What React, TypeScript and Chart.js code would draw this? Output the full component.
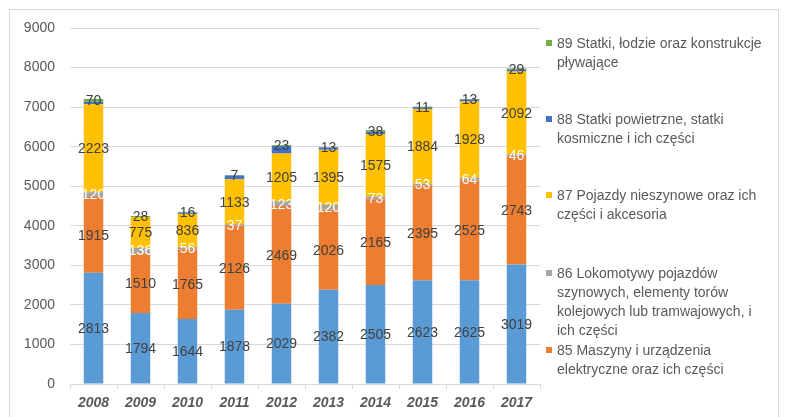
import React, { useEffect, useRef } from "react";
import { Chart, registerables } from "chart.js";

Chart.register(...registerables);

const years = ["2008", "2009", "2010", "2011", "2012", "2013", "2014", "2015", "2016", "2017"];
const s84 = [2813, 1794, 1644, 1878, 2029, 2382, 2505, 2623, 2625, 3019];
const s85 = [1915, 1510, 1765, 2126, 2469, 2026, 2165, 2395, 2525, 2743];
const s86 = [120, 136, 56, 37, 123, 120, 73, 53, 64, 46];
const s87 = [2223, 775, 836, 1133, 1205, 1395, 1575, 1884, 1928, 2092];
const s88 = [64, 5, 35, 100, 190, 55, 63, 45, 50, 50];
const s89 = [70, 28, 16, 7, 23, 13, 38, 11, 13, 29];

const names = [
  "84 Reaktory jądrowe, kotły, maszyny i urządzenia mechaniczne",
  "85 Maszyny i urządzenia elektryczne oraz ich części",
  "86 Lokomotywy pojazdów szynowych, elementy torów kolejowych lub tramwajowych, i ich części",
  "87 Pojazdy nieszynowe oraz ich części i akcesoria",
  "88 Statki powietrzne, statki kosmiczne i ich części",
  "89 Statki, łodzie oraz konstrukcje pływające",
];
const colors = ["#5B9BD5", "#ED7D31", "#A5A5A5", "#FFC000", "#4472C4", "#70AD47"];
const labelColors = ["#404040", "#404040", "#FFFFFF", "#404040", null, "#404040"];

const legendItems = [
  { color: "#70AD47", lines: ["89 Statki, łodzie oraz konstrukcje", "pływające"], top: 43 },
  { color: "#4472C4", lines: ["88 Statki powietrzne, statki", "kosmiczne i ich części"], top: 119 },
  { color: "#FFC000", lines: ["87 Pojazdy nieszynowe oraz ich", "części i akcesoria"], top: 195 },
  {
    color: "#A5A5A5",
    lines: ["86 Lokomotywy pojazdów", "szynowych, elementy torów", "kolejowych lub tramwajowych, i", "ich części"],
    top: 273,
  },
  { color: "#ED7D31", lines: ["85 Maszyny i urządzenia", "elektryczne oraz ich części"], top: 350 },
];

const FONT = "'Liberation Sans', Arial, sans-serif";

const segLabels = {
  id: "segLabels",
  afterDatasetsDraw(chart: any) {
    const ctx = chart.ctx;
    ctx.save();
    ctx.font = `14px ${FONT}`;
    ctx.textAlign = "center";
    ctx.textBaseline = "middle";
    chart.data.datasets.forEach((ds: any, i: number) => {
      const c = labelColors[i];
      if (!c) return;
      const meta = chart.getDatasetMeta(i);
      ctx.fillStyle = c;
      meta.data.forEach((el: any, j: number) => {
        const p = el.getProps(["x", "y", "base"], true);
        ctx.fillText(String(ds.data[j]), p.x, (p.y + p.base) / 2 + 1);
      });
    });
    ctx.restore();
  },
};

export default function App() {
  const ref = useRef<HTMLCanvasElement>(null);
  useEffect(() => {
    const series = [s84, s85, s86, s87, s88, s89];
    const chart = new Chart(ref.current!, {
      type: "bar",
      data: {
        labels: years,
        datasets: series.map((d, i) => ({
          label: names[i],
          data: d,
          backgroundColor: colors[i],
          borderWidth: 0,
          categoryPercentage: 1,
          barPercentage: 0.415,
        })),
      },
      options: {
        responsive: false,
        animation: false,
        devicePixelRatio: 1,
        layout: { padding: { left: 10, right: 248, top: 28, bottom: 0 } },
        plugins: { legend: { display: false }, tooltip: { enabled: false } },
        scales: {
          x: {
            stacked: true,
            afterFit: (s: any) => {
              s.height = 33;
            },
            grid: {
              offset: true,
              drawOnChartArea: false,
              drawTicks: true,
              tickLength: 5,
              color: "#D9D9D9",
            },
            border: { display: true, color: "#D9D9D9" },
            ticks: {
              padding: 6,
              color: "#595959",
              font: { family: FONT, size: 14, weight: "bold", style: "italic" },
            },
          },
          y: {
            stacked: true,
            min: 0,
            max: 9000,
            afterFit: (s: any) => {
              s.width = 60;
            },
            grid: { color: "#D9D9D9", drawTicks: false },
            border: { display: false },
            ticks: {
              stepSize: 1000,
              padding: 15,
              color: "#595959",
              font: { family: FONT, size: 14 },
              callback: (v: any) => String(v),
            },
          },
        },
      },
      plugins: [segLabels],
    });
    return () => chart.destroy();
  }, []);

  return (
    <div style={{ position: "fixed", left: 0, top: 0, width: 788, height: 417, background: "#fff", overflow: "hidden" }}>
      <div
        style={{
          position: "absolute",
          left: 9,
          top: 9,
          width: 770,
          height: 420,
          border: "1px solid #D9D9D9",
          boxSizing: "border-box",
        }}
      />
      <canvas ref={ref} width={788} height={417} style={{ position: "absolute", left: 0, top: 0 }} />
      {legendItems.map((it, k) => (
        <div key={k} style={{ position: "absolute", left: 546, top: it.top - 9.5 }}>
          <div
            style={{ position: "absolute", left: 0, top: 6, width: 6, height: 6, background: it.color }}
          />
          <div
            style={{
              position: "absolute",
              left: 11,
              top: 0,
              whiteSpace: "nowrap",
              font: `14px ${FONT}`,
              lineHeight: "19px",
              color: "#595959",
            }}
          >
            {it.lines.map((l, m) => (
              <div key={m}>{l}</div>
            ))}
          </div>
        </div>
      ))}
    </div>
  );
}
